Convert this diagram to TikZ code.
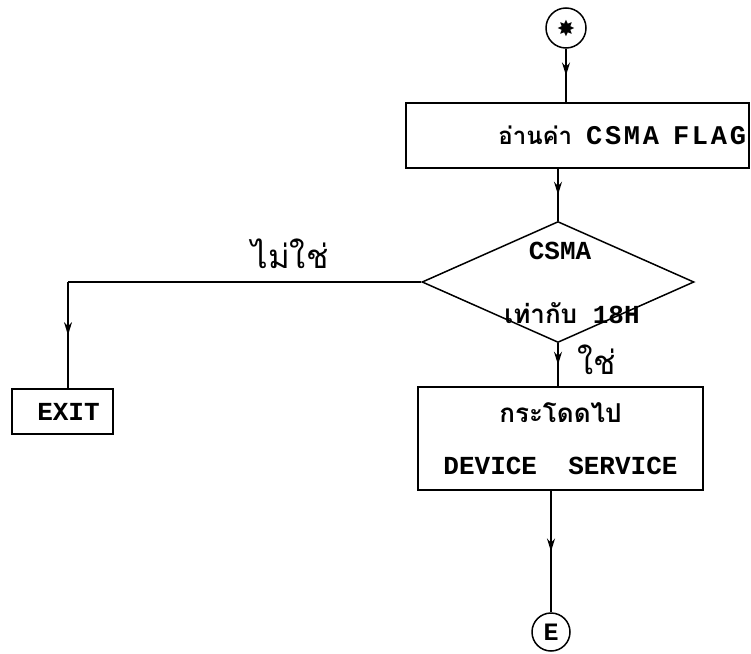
\documentclass[tikz,border=0pt]{standalone}
\usepackage{fontspec}
\setmonofont{Liberation Mono}
\newfontfamily\thai[Script=Thai]{Loma}
\newfontfamily\symb{DejaVu Sans}
\usetikzlibrary{shapes.geometric,decorations.markings,arrows.meta}
\tikzset{
  plain/.style={line width=1.5pt},
  flow/.style={line width=1.5pt, postaction={decorate},
    decoration={markings, mark=at position 0.5 with {\arrow{Stealth[length=13pt,width=8pt]}}}},
  mono/.style={font=\ttfamily\bfseries\fontsize{26}{30}\selectfont},
  box/.style={draw, line width=1.5pt, inner sep=3pt, mono},
  txt/.style={inner sep=0pt, mono},
  conn/.style={draw, circle, line width=1.5pt, inner sep=0pt},
  hand/.style={inner sep=0pt, font=\thai\fontsize{33}{36}\selectfont},
  decision/.style={draw, diamond, line width=1.5pt, inner sep=0pt}
}
\begin{document}
\begin{tikzpicture}[x=1pt,y=-1pt]
\useasboundingbox (0,0) rectangle (751,653);
\node[conn, minimum size=40pt, font=\symb\fontsize{22}{24}\selectfont] (start) at (566,28) {✸};
\node[box, minimum width=343pt, minimum height=65pt, text width=337pt, align=right] (read) at (577.5,135.5) {{\thai\bfseries\fontsize{24}{27}\selectfont อ่านค่า}\hspace{14pt}{\fontsize{27}{30}\selectfont\addfontfeatures{LetterSpace=10}CSMA\hspace{14pt}FLAG}};
\node[decision, minimum width=272pt, minimum height=121pt] (dec) at (558,282) {};
\node[txt] (t1) at (560,251) {CSMA};
\node[txt] (t2) at (572,313) {{\thai\bfseries เท่ากับ} 18H};
\node[box, minimum width=101pt, minimum height=45pt] (exit) at (62.5,411.5) {\hspace*{12pt}EXIT};
\node[box, minimum width=285pt, minimum height=103pt, align=center] (jump) at (560.5,438.5) {{\thai\bfseries กระโดดไป}\\[22pt]DEVICE\ \ SERVICE};
\node[conn, minimum size=38pt, font=\ttfamily\bfseries\fontsize{25}{27}\selectfont] (endc) at (551,632) {E};
\coordinate (corner) at (68,282);
\draw[flow] (start.south) -- (start.south |- read.north);
\draw[flow] (dec.north |- read.south) -- (dec.north);
\draw[plain] (dec.west) -- (corner);
\draw[flow] (corner) -- (corner |- exit.north);
\draw[flow] (dec.south) -- (dec.south |- jump.north);
\draw[flow] (endc.north |- jump.south) -- (endc.north);
\node[hand] (no) at (290,254) {ไม่ใช่};
\node[hand] (yes) at (597,360) {ใช่};
\end{tikzpicture}
\end{document}
